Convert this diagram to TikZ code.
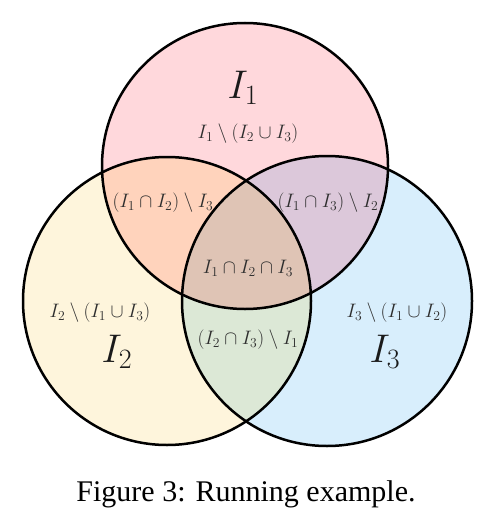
\RequirePackage{fix-cm}
\documentclass[tikz,border=0pt]{standalone}
\usepackage{fontspec}
\newfontfamily\capfont{Liberation Serif}
\definecolor{cA}{HTML}{FFD8DC}
\definecolor{cB}{HTML}{FEF5DC}
\definecolor{cC}{HTML}{D8EEFC}
\definecolor{cAB}{HTML}{FFD3BC}
\definecolor{cAC}{HTML}{DCC8DA}
\definecolor{cBC}{HTML}{DCE8D6}
\definecolor{cABC}{HTML}{DFC4B5}
\definecolor{txt}{HTML}{1A1A1A}
\definecolor{txtsmall}{HTML}{2E2E2E}
\tikzset{
  outline/.style={draw=black, line width=2.5pt},
  biglabel/.style={font=\fontsize{40}{44}\selectfont, inner sep=0pt, text=txt, anchor=base},
  reglabel/.style={font=\fontsize{19.5}{23}\selectfont, inner sep=0pt, text=txtsmall},
}
\begin{document}
\begin{tikzpicture}[x=1pt,y=-1pt]
\useasboundingbox (0,0) rectangle (495,532);
\fill[white] (0,0) rectangle (495,532);
\coordinate (c1) at (245,166);
\coordinate (c2) at (167,301);
\coordinate (c3) at (327,301);
\def\rA{143}\def\rB{144}\def\rC{145}
% base fills
\fill[cA] (c1) circle[radius=\rA];
\fill[cB] (c2) circle[radius=\rB];
\fill[cC] (c3) circle[radius=\rC];
% pairwise overlaps
\begin{scope}\clip (c1) circle[radius=\rA]; \fill[cAB] (c2) circle[radius=\rB]; \end{scope}
\begin{scope}\clip (c1) circle[radius=\rA]; \fill[cAC] (c3) circle[radius=\rC]; \end{scope}
\begin{scope}\clip (c2) circle[radius=\rB]; \fill[cBC] (c3) circle[radius=\rC]; \end{scope}
\begin{scope}\clip (c1) circle[radius=\rA]; \clip (c2) circle[radius=\rB]; \fill[cABC] (c3) circle[radius=\rC]; \end{scope}
% outlines
\draw[outline] (c1) circle[radius=\rA];
\draw[outline] (c2) circle[radius=\rB];
\draw[outline] (c3) circle[radius=\rC];
% labels
\node[biglabel] (n1) at (243,99) {$I_1$};
\node[biglabel] (n2) at (117,362) {$I_2$};
\node[biglabel] (n3) at (385,362) {$I_3$};
\node[reglabel] (r1) at (248,134) {$I_1\setminus(I_2\cup I_3)$};
\node[reglabel] (r12) at (163,203) {$(I_1\cap I_2)\setminus I_3$};
\node[reglabel] (r13) at (328,203) {$(I_1\cap I_3)\setminus I_2$};
\node[reglabel] (r123) at (248,268) {$I_1\cap I_2\cap I_3$};
\node[reglabel] (r2) at (100,313) {$I_2\setminus(I_1\cup I_3)$};
\node[reglabel] (r23) at (248,340) {$(I_2\cap I_3)\setminus I_1$};
\node[reglabel] (r3) at (397,313) {$I_3\setminus(I_1\cup I_2)$};
\node[font=\capfont\fontsize{30}{34}\selectfont, inner sep=0pt] (cap) at (246,494) {Figure 3: Running example.};
\end{tikzpicture}
\end{document}
